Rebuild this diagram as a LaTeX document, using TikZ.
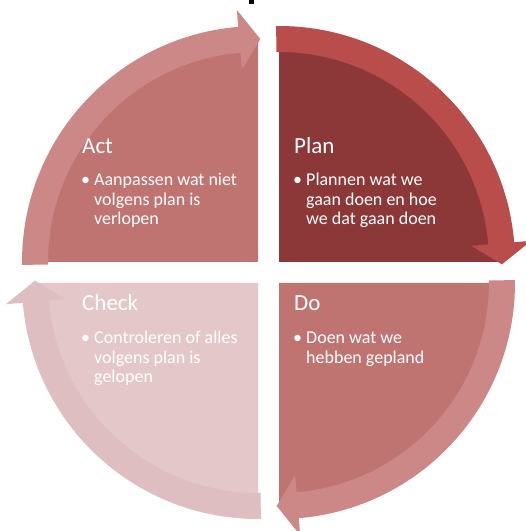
\documentclass[tikz,border=0pt]{standalone}
\usepackage{fontspec}
\setmainfont{Carlito}
\definecolor{planfill}{RGB}{140,56,56}
\definecolor{planband}{RGB}{184,77,75}
\definecolor{midfill}{RGB}{192,116,114}
\definecolor{midband}{RGB}{204,136,134}
\definecolor{checkfill}{RGB}{228,199,201}
\definecolor{checkband}{RGB}{222,190,192}
\tikzset{
 quadtitle/.style={anchor=base west, inner sep=0pt, text=white, font=\fontsize{23}{27}\selectfont},
 bodytext/.style={anchor=base west, inner sep=0pt, text=white, font=\fontsize{18}{22}\selectfont},
}
\newcommand\cyclequad[4]{%
 \begin{scope}[shift={#1},rotate=#2]
  \fill[#3] (0pt,0pt) -- (0:220pt) arc[start angle=0,end angle=90,radius=220pt] -- cycle;
  \fill[#4] (90.7:236pt) arc[start angle=90.7,end angle=4.8,radius=236pt] -- (4.8:253pt) -- (-0.6:223pt) -- (4.8:193pt) -- (4.8:210pt) arc[start angle=4.8,end angle=90.7,radius=210pt] -- cycle;
 \end{scope}}
\newcommand\bul{\llap{•\kern 4pt}}
\begin{document}
\begin{tikzpicture}[x=1pt,y=1pt]
\fill[white] (0,0) rectangle (526,531);
\clip (0,0) rectangle (526,531);
% quadrants
\cyclequad{(279,269)}{0}{planfill}{planband}
\cyclequad{(279,248)}{-90}{midfill}{midband}
\cyclequad{(258,248)}{-180}{checkfill}{checkband}
\cyclequad{(258,269)}{90}{midfill}{midband}
% fragment of cut-off title
\fill[black] (249,527) rectangle (254,531);
% Act
\node[quadtitle] (acttitle) at (82,377) {Act};
\node[bodytext] (act1) at (94,345) {\bul Aanpassen wat niet};
\node[bodytext] (act2) at (94,325.5) {volgens plan is};
\node[bodytext] (act3) at (94,306) {verlopen};
% Plan
\node[quadtitle] (plantitle) at (294,377) {Plan};
\node[bodytext] (plan1) at (306,345) {\bul Plannen wat we};
\node[bodytext] (plan2) at (306,325.5) {gaan doen en hoe};
\node[bodytext] (plan3) at (306,306) {we dat gaan doen};
% Check
\node[quadtitle] (checktitle) at (82,220.5) {Check};
\node[bodytext] (check1) at (94,187.5) {\bul Controleren of alles};
\node[bodytext] (check2) at (94,167.8) {volgens plan is};
\node[bodytext] (check3) at (94,148.2) {gelopen};
% Do
\node[quadtitle] (dotitle) at (294,220.5) {Do};
\node[bodytext] (do1) at (306,187.5) {\bul Doen wat we};
\node[bodytext] (do2) at (306,167.8) {hebben gepland};
\end{tikzpicture}
\end{document}
